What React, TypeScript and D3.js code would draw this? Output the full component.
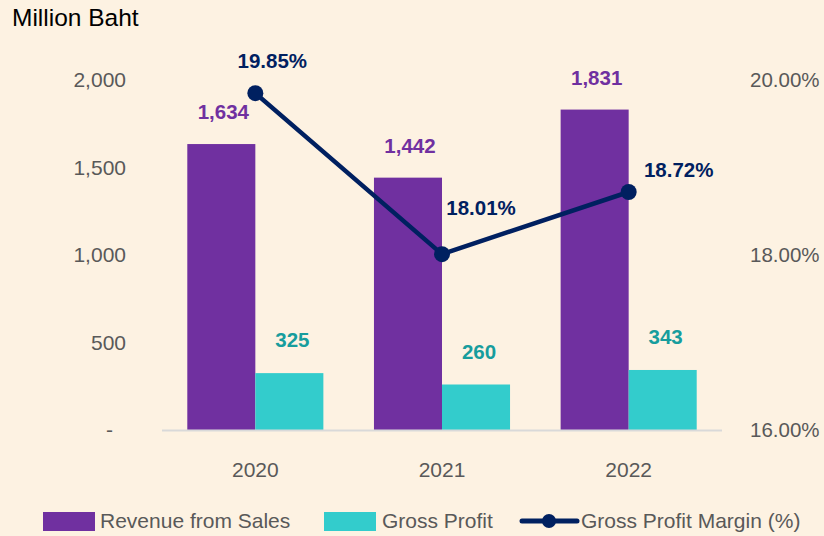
import React, { useEffect, useRef } from "react";
import * as d3 from "d3";

const years = ["2020", "2021", "2022"];
const revenue = [1634, 1442, 1831];
const grossProfit = [325, 260, 343];
const margin = [19.85, 18.01, 18.72];
const leftTicks = [0, 500, 1000, 1500, 2000];
const rightTicks = [16, 18, 20];
const marginLabelOffsets = [
  [17, -25],
  [39, -39],
  [50, -15],
];

const W = 824;
const H = 536;
const BG = "#FDF2E2";
const PURPLE = "#7030A0";
const CYAN = "#33CCCC";
const CYAN_TXT = "#179D9D";
const NAVY = "#002060";
const GRAY = "#595959";
const FONT = "'Liberation Sans', Arial, sans-serif";

export default function App() {
  const ref = useRef<SVGSVGElement>(null);

  useEffect(() => {
    const svg = d3.select(ref.current);
    svg.selectAll("*").remove();

    svg.append("rect").attr("width", W).attr("height", H).attr("fill", BG);

    const x0 = d3.scaleBand<string>().domain(years).range([162, 722]).padding(0);
    const bw = x0.bandwidth();
    const x1 = d3
      .scaleBand<string>()
      .domain(["rev", "gp"])
      .range([25.3, bw - 25.3])
      .padding(0);
    const y = d3.scaleLinear().domain([0, 2000]).range([430, 80]);
    const y2 = d3.scaleLinear().domain([16, 20]).range([430, 80]);

    // title
    svg
      .append("text")
      .attr("x", 12)
      .attr("y", 26)
      .attr("font-family", FONT)
      .attr("font-size", 24.5)
      .attr("fill", "#000")
      .text("Million Baht");

    // left axis ticks
    const fmt = d3.format(",");
    svg
      .selectAll(".lt")
      .data(leftTicks)
      .join("text")
      .attr("x", (d) => (d === 0 ? 113 : 126))
      .attr("y", (d) => y(d) + 7)
      .attr("text-anchor", "end")
      .attr("font-family", FONT)
      .attr("font-size", 21)
      .attr("fill", GRAY)
      .text((d) => (d === 0 ? "-" : fmt(d)));

    // right axis ticks
    svg
      .selectAll(".rt")
      .data(rightTicks)
      .join("text")
      .attr("x", 750)
      .attr("y", (d) => y2(d) + 7)
      .attr("font-family", FONT)
      .attr("font-size", 20.5)
      .attr("fill", GRAY)
      .text((d) => d.toFixed(2) + "%");

    // bars
    const g = svg.append("g");
    years.forEach((yr, i) => {
      const bx = x0(yr)!;
      g.append("rect")
        .attr("x", bx + x1("rev")!)
        .attr("y", y(revenue[i]))
        .attr("width", x1.bandwidth())
        .attr("height", y(0) - y(revenue[i]))
        .attr("fill", PURPLE);
      g.append("rect")
        .attr("x", bx + x1("gp")!)
        .attr("y", y(grossProfit[i]))
        .attr("width", x1.bandwidth())
        .attr("height", y(0) - y(grossProfit[i]))
        .attr("fill", CYAN);
      g.append("text")
        .attr("x", bx + x1("rev")! + x1.bandwidth() / 2 + 2)
        .attr("y", y(revenue[i]) - 25)
        .attr("text-anchor", "middle")
        .attr("font-family", FONT)
        .attr("font-size", 20.5)
        .attr("font-weight", "bold")
        .attr("fill", PURPLE)
        .text(fmt(revenue[i]));
      g.append("text")
        .attr("x", bx + x1("gp")! + x1.bandwidth() / 2 + 3)
        .attr("y", y(grossProfit[i]) - 26)
        .attr("text-anchor", "middle")
        .attr("font-family", FONT)
        .attr("font-size", 20.5)
        .attr("font-weight", "bold")
        .attr("fill", CYAN_TXT)
        .text(fmt(grossProfit[i]));
      g.append("text")
        .attr("x", bx + bw / 2)
        .attr("y", 477)
        .attr("text-anchor", "middle")
        .attr("font-family", FONT)
        .attr("font-size", 21)
        .attr("fill", GRAY)
        .text(yr);
    });

    // baseline
    svg
      .append("line")
      .attr("x1", 162)
      .attr("x2", 722)
      .attr("y1", y(0) + 0.5)
      .attr("y2", y(0) + 0.5)
      .attr("stroke", "#D9D9D9")
      .attr("stroke-width", 2);

    // line
    const pts = years.map((yr, i) => [x0(yr)! + bw / 2, y2(margin[i])] as [number, number]);
    svg
      .append("path")
      .attr("d", d3.line()(pts)!)
      .attr("fill", "none")
      .attr("stroke", NAVY)
      .attr("stroke-width", 4.5)
      .attr("stroke-linejoin", "round");
    svg
      .selectAll(".mk")
      .data(pts)
      .join("circle")
      .attr("cx", (d) => d[0])
      .attr("cy", (d) => d[1])
      .attr("r", 8)
      .attr("fill", NAVY);
    svg
      .selectAll(".ml")
      .data(pts)
      .join("text")
      .attr("x", (d, i) => d[0] + marginLabelOffsets[i][0])
      .attr("y", (d, i) => d[1] + marginLabelOffsets[i][1])
      .attr("text-anchor", "middle")
      .attr("font-family", FONT)
      .attr("font-size", 20.5)
      .attr("font-weight", "bold")
      .attr("fill", NAVY)
      .text((d, i) => margin[i].toFixed(2) + "%");

    // legend
    const lg = svg.append("g").attr("font-family", FONT).attr("font-size", 21).attr("fill", GRAY);
    lg.append("rect").attr("x", 43).attr("y", 512).attr("width", 52).attr("height", 19).attr("fill", PURPLE);
    lg.append("text").attr("x", 100).attr("y", 528).text("Revenue from Sales");
    lg.append("rect").attr("x", 324).attr("y", 512).attr("width", 52).attr("height", 19).attr("fill", CYAN);
    lg.append("text").attr("x", 382).attr("y", 528).text("Gross Profit");
    lg.append("line")
      .attr("x1", 522)
      .attr("x2", 577)
      .attr("y1", 521)
      .attr("y2", 521)
      .attr("stroke", NAVY)
      .attr("stroke-width", 5)
      .attr("stroke-linecap", "round");
    lg.append("circle").attr("cx", 549).attr("cy", 521).attr("r", 7).attr("fill", NAVY);
    lg.append("text").attr("x", 581).attr("y", 528).text("Gross Profit Margin (%)");
  }, []);

  return (
    <svg
      ref={ref}
      width={W}
      height={H}
      style={{ position: "absolute", left: 0, top: 0, display: "block" }}
    />
  );
}
